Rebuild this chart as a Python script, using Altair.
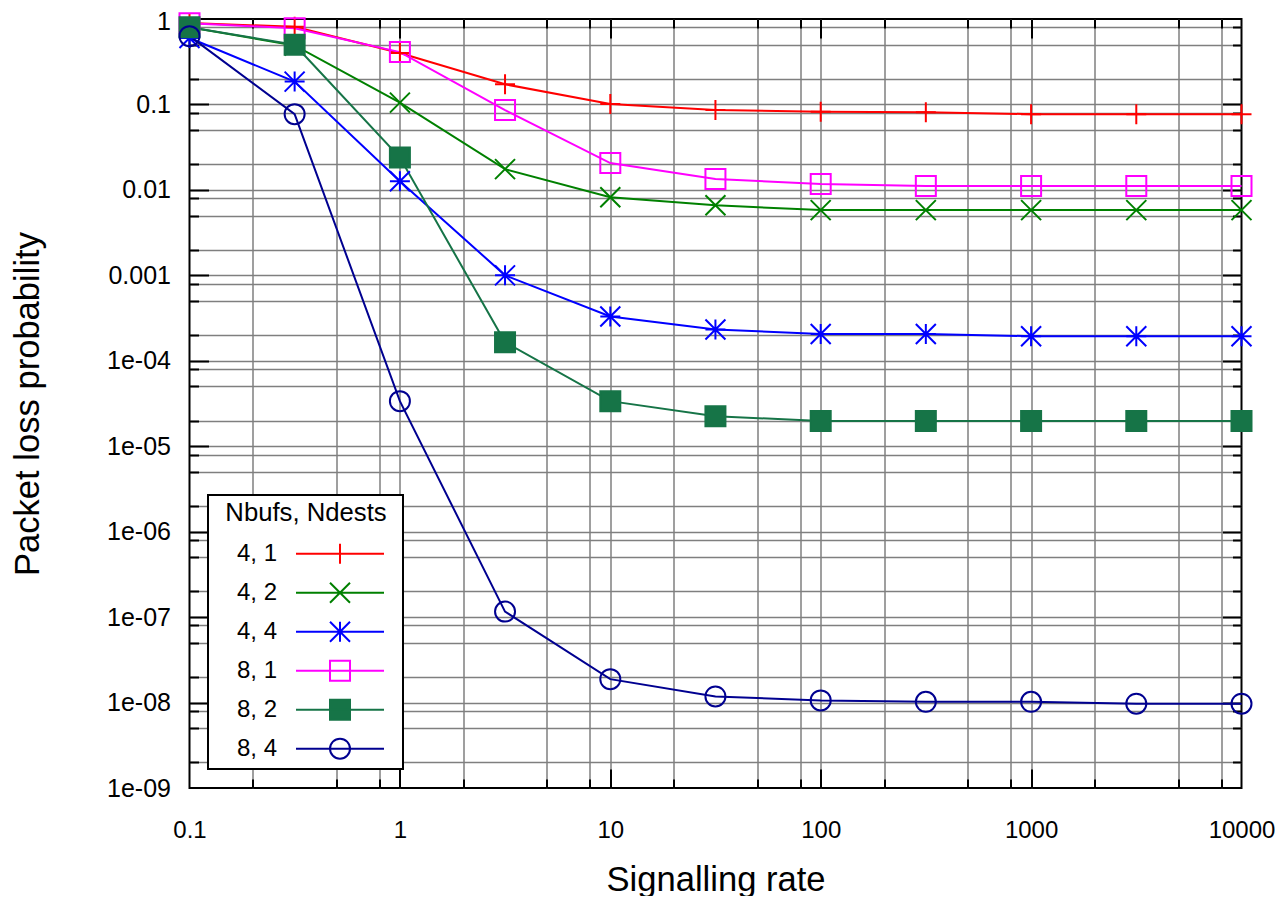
import altair as alt
import pandas as pd

# ---------------- data ----------------
x_rate = [0.1, 0.316, 1, 3.16, 10, 31.6, 100, 316, 1000, 3162, 10000]
series_names = ["4, 1", "4, 2", "4, 4", "8, 1", "8, 2", "8, 4"]
loss_4_1 = [0.90, 0.81, 0.40, 0.172, 0.101, 0.086, 0.082, 0.081, 0.077, 0.077, 0.077]
loss_4_2 = [0.80, 0.49, 0.105, 0.0175, 0.0082, 0.0066, 0.0058, 0.0058, 0.0058, 0.0058, 0.0058]
loss_4_4 = [0.60, 0.185, 0.0126, 0.00100, 0.00033, 0.000232, 0.000206, 0.000206, 0.000194, 0.000194, 0.000194]
loss_8_1 = [0.89, 0.78, 0.41, 0.086, 0.0206, 0.0134, 0.0117, 0.0111, 0.0111, 0.0111, 0.0111]
loss_8_2 = [0.80, 0.50, 0.0239, 0.000165, 3.37e-5, 2.25e-5, 1.97e-5, 1.97e-5, 1.97e-5, 1.97e-5, 1.97e-5]
loss_8_4 = [0.63, 0.077, 3.37e-5, 1.16e-7, 1.88e-8, 1.18e-8, 1.06e-8, 1.02e-8, 1.02e-8, 9.7e-9, 9.7e-9]

x_major = [0.1, 1, 10, 100, 1000, 10000]
y_major = [1, 0.1, 0.01, 0.001, 1e-4, 1e-5, 1e-6, 1e-7, 1e-8, 1e-9]
minor_mult = [2, 5, 8]

# ---------------- styles ----------------
FONT = "Liberation Sans"
series_colors = ["#ff0000", "#008000", "#0000ff", "#ff00ff", "#167447", "#000090"]
series_fill = ["transparent", "transparent", "transparent", "transparent", "#167447", "transparent"]
marker_paths = [
    "M-1,0L1,0M0,-1L0,1",
    "M-1,-1L1,1M-1,1L1,-1",
    "M-1,0L1,0M0,-1L0,1M-1,-1L1,1M-1,1L1,-1",
    "M-1,-1L1,-1L1,1L-1,1Z",
    "M-1,-1L1,-1L1,1L-1,1Z",
    "circle",
]
# legend sample: line segment with the marker in its middle, placed right of the label
LINE = "M7.0,0L15.8,0"
END = "M16.7,0"
legend_paths = [
    LINE + "M11.4,-1L11.4,1" + END,
    LINE + "M10.4,-1L12.4,1M10.4,1L12.4,-1" + END,
    LINE + "M11.4,-1L11.4,1M10.4,-1L12.4,1M10.4,1L12.4,-1" + END,
    LINE + "M10.4,-1L12.4,-1L12.4,1L10.4,1Z" + END,
    LINE + "M10.4,-1L12.4,-1L12.4,1L10.4,1Z" + END,
    LINE + "M12.4,0A1,1,0,1,1,10.4,0A1,1,0,1,1,12.4,0Z" + END,
]

x_minor = [d * m for d in x_major[:-1] for m in minor_mult]
y_minor = [d * m for d in y_major[1:] for m in minor_mult]
x_major_inner = x_major[1:-1]
y_major_inner = y_major[1:-1]

rows = []
for name, vals in zip(series_names, [loss_4_1, loss_4_2, loss_4_4, loss_8_1, loss_8_2, loss_8_4]):
    for xv, v in zip(x_rate, vals):
        rows.append({"rate": xv, "loss": v, "series": name})
df = pd.DataFrame(rows)

xs = alt.Scale(type="log", domain=[0.1, 10000], nice=False)
ys = alt.Scale(type="log", domain=[1e-9, 1], nice=False)

GRID = "#7f7f7f"
Y_LABEL_EXPR = ("datum.value >= 0.001 ? toString(datum.value) : "
                "'1e-0' + toString(round(-log(datum.value) / LN10))")


def tick_axis(orient, values, length, grid):
    return alt.Axis(orient=orient, values=values, offset=-length, tickSize=length,
                    tickWidth=2, tickColor="black", ticks=True, domain=False,
                    labels=False, title=None, grid=grid, gridColor=GRID,
                    gridWidth=1.5, gridOpacity=1)


ax_x_labels = alt.Axis(orient="bottom", values=x_major, labelExpr="toString(datum.value)",
                       labelFontSize=24, labelFont=FONT, labelColor="black", labelPadding=30,
                       labelFlush=False, labelOverlap=False, ticks=False, tickSize=0,
                       domain=False, grid=False, title="Signalling rate", titleFontSize=34.6,
                       titleFont=FONT, titleFontWeight="normal", titleColor="black",
                       titleY=102, titleBaseline="alphabetic")
ax_y_labels = alt.Axis(orient="left", values=y_major[1:], labelExpr=Y_LABEL_EXPR,
                       labelFontSize=25, labelFont=FONT, labelColor="black", labelPadding=19,
                       labelFlush=False, labelOverlap=False, ticks=False, tickSize=0,
                       domain=False, grid=False, title="Packet loss probability",
                       titleFontSize=34.6, titleFont=FONT, titleFontWeight="normal",
                       titleColor="black", titleX=-151, titleBaseline="alphabetic")
# the top label "1" on its own axis, nudged slightly down so it stays inside the page
ax_y_top_label = alt.Axis(orient="left", values=y_major[:1], labelExpr=Y_LABEL_EXPR,
                          labelFontSize=25, labelFont=FONT, labelColor="black", labelPadding=19,
                          labelOffset=2.5, labelFlush=False, labelOverlap=False, ticks=False,
                          tickSize=0, domain=False, grid=False, title=None)
ax_x_none = alt.Axis(orient="bottom", values=x_major[:1], labels=False, ticks=False, tickSize=0,
                     domain=False, grid=False, title=None)


def stroke_enc(legend):
    return alt.Stroke("series:N", scale=alt.Scale(domain=series_names, range=series_colors), legend=legend)


def fill_enc(legend):
    return alt.Fill("series:N", scale=alt.Scale(domain=series_names, range=series_fill), legend=legend)


legend_def = alt.Legend(title="Nbufs, Ndests", orient="none", legendX=18.5, legendY=476,
                        titleFontSize=25.7, titleFont=FONT, titleFontWeight="normal",
                        titleColor="black", titleAnchor="middle", titlePadding=15,
                        labelFontSize=24, labelFont=FONT, labelColor="black",
                        labelAlign="right", labelOffset=39,
                        symbolSize=400, symbolStrokeWidth=2,
                        padding=6, rowPadding=11, strokeColor="black", fillColor="white")

lines = alt.Chart(df).mark_line(strokeWidth=2).encode(
    x=alt.X("rate:Q", scale=xs, axis=ax_x_labels),
    y=alt.Y("loss:Q", scale=ys, axis=ax_y_labels),
    stroke=stroke_enc(None),
)

points = alt.Chart(df).mark_point(size=400, strokeWidth=2, opacity=1).encode(
    x=alt.X("rate:Q", scale=xs, axis=tick_axis("bottom", x_major_inner, 19, True)),
    y=alt.Y("loss:Q", scale=ys, axis=tick_axis("left", y_major_inner, 19, True)),
    stroke=stroke_enc(None),
    fill=fill_enc(None),
    shape=alt.Shape("series:N", scale=alt.Scale(domain=series_names, range=marker_paths), legend=None),
)

legend_layer = alt.Chart(df).transform_filter("false").mark_point(size=400, strokeWidth=2, opacity=1).encode(
    x=alt.X("rate:Q", scale=xs, axis=tick_axis("bottom", x_minor, 9, True)),
    y=alt.Y("loss:Q", scale=ys, axis=tick_axis("left", y_minor, 9, True)),
    stroke=stroke_enc(legend_def),
    fill=fill_enc(legend_def),
    shape=alt.Shape("series:N", scale=alt.Scale(domain=series_names, range=legend_paths), legend=legend_def),
)

top_right_major = alt.Chart(df).transform_filter("false").mark_point().encode(
    x=alt.X("rate:Q", scale=xs, axis=tick_axis("top", x_major_inner, 19, False)),
    y=alt.Y("loss:Q", scale=ys, axis=tick_axis("right", y_major_inner, 19, False)),
)

top_right_minor = alt.Chart(df).transform_filter("false").mark_point().encode(
    x=alt.X("rate:Q", scale=xs, axis=tick_axis("top", x_minor, 9, False)),
    y=alt.Y("loss:Q", scale=ys, axis=tick_axis("right", y_minor, 9, False)),
)

top_label = alt.Chart(df).transform_filter("false").mark_point().encode(
    x=alt.X("rate:Q", scale=xs, axis=ax_x_none),
    y=alt.Y("loss:Q", scale=ys, axis=ax_y_top_label),
)

chart = alt.layer(lines, points, legend_layer, top_right_major, top_right_minor, top_label).resolve_scale(
    stroke="independent", fill="independent", shape="independent"
).resolve_axis(
    x="independent", y="independent"
).properties(
    width=1052, height=769,
    autosize=alt.AutoSizeParams(type="none"),
    padding={"left": 181.5, "top": 11, "right": 33.5, "bottom": 108},
).configure(font=FONT).configure_view(
    stroke="black", strokeWidth=2
).configure_legend(strokeWidth=2)

chart.save("out.html", embed_options={"renderer": "svg", "actions": False})
